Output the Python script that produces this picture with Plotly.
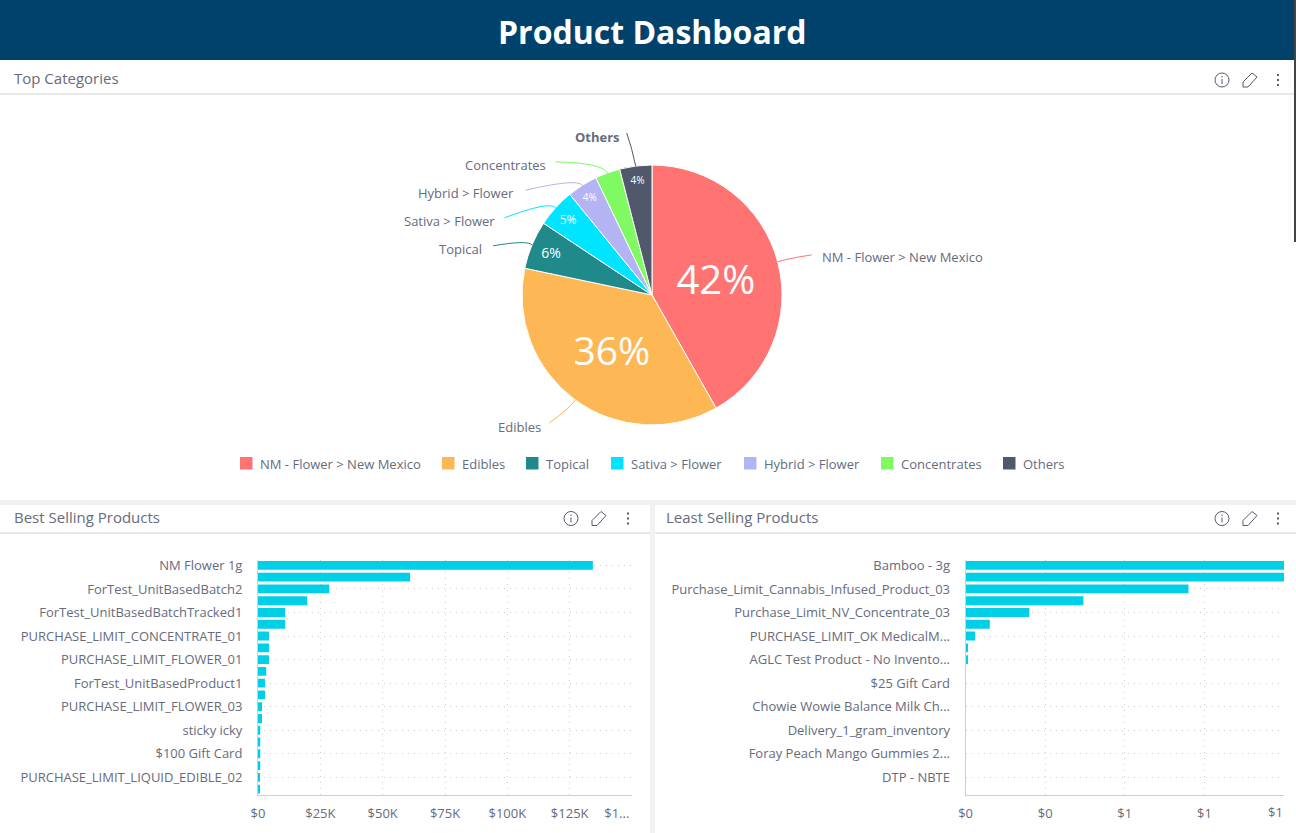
import math
import plotly.graph_objects as go

W, H = 1296, 833

# pie data (share of sales, %)
cat_names = ["NM - Flower > New Mexico", "Edibles", "Topical", "Sativa > Flower",
             "Hybrid > Flower", "Concentrates", "Others"]
cat_shares = [41.8, 36.5, 6.0, 4.8, 3.8, 3.1, 4.0]
cat_text = ["42%", "36%", "6%", "5%", "4%", "", "4%"]
cat_colors = ["#ff7473", "#fdb755", "#20898a", "#00e5ff", "#b4b4f5", "#80fa62", "#50586c"]

# bars, best sellers
best_labels = ["NM Flower 1g", "", "ForTest_UnitBasedBatch2", "", "ForTest_UnitBasedBatchTracked1", "",
               "PURCHASE_LIMIT_CONCENTRATE_01", "", "PURCHASE_LIMIT_FLOWER_01", "",
               "ForTest_UnitBasedProduct1", "", "PURCHASE_LIMIT_FLOWER_03", "", "sticky icky", "",
               "$100 Gift Card", "", "PURCHASE_LIMIT_LIQUID_EDIBLE_02", ""]
best_values = [134300, 61000, 28600, 19700, 10900, 10900, 4400, 4400, 4400, 3300,
               2800, 2800, 1600, 1600, 900, 900, 900, 900, 800, 500]
best_ticks = [0, 25000, 50000, 75000, 100000, 125000, 150000]
best_ticktext = ["$0", "$25K", "$50K", "$75K", "$100K", "$125K", "$1...\u00a0\u00a0\u00a0\u00a0\u00a0\u00a0\u00a0\u00a0\u00a0"]

# bars, least sellers
least_labels = ["Bamboo - 3g", "", "Purchase_Limit_Cannabis_Infused_Product_03", "",
                "Purchase_Limit_NV_Concentrate_03", "", "PURCHASE_LIMIT_OK MedicalM...", "",
                "AGLC Test Product - No Invento...", "", "$25 Gift Card", "",
                "Chowie Wowie Balance Milk Ch...", "", "Delivery_1_gram_inventory", "",
                "Foray Peach Mango Gummies 2...", "", "DTP - NBTE", ""]
least_values = [1, 1, 0.70, 0.37, 0.20, 0.076, 0.03, 0.0075, 0.0075, 0,
                0, 0, 0, 0, 0, 0, 0, 0, 0, 0]
least_ticks = [0, 0.25, 0.5, 0.75, 1]
# last label sits left of its tick, it would be dropped at the page edge so it is a note
least_ticktext = ["$0", "$0", "$1", "$1", ""]

TEXT = "#666b7d"
BAR = "#00cfe8"
GRID = "#cfcfcf"
FONT = "Open Sans"


def px(x):
    return x / W


def py(y):
    return 1 - y / H


shapes = []
notes = []


def box(x0, y0, x1, y1, color, layer="below"):
    shapes.append(dict(type="rect", xref="paper", yref="paper", x0=px(x0), x1=px(x1),
                       y0=py(y1), y1=py(y0), fillcolor=color, line_width=0, layer=layer))


def note(x, y, text, size=13, color=TEXT, anchor="center", bold=False):
    notes.append(dict(xref="paper", yref="paper", x=px(x), y=py(y), text=f"<b>{text}</b>" if bold else text,
                      showarrow=False, xanchor=anchor, yanchor="middle", borderpad=0, borderwidth=0,
                      font=dict(family=FONT, size=size, color=color)))


def panel(x0, y0, x1, y1, head_bottom, mid, title, title_x, icon_xs):
    box(x0, y0, x1, y1, "white")
    box(x0, head_bottom - 1, x1, head_bottom + 1, "#e8e8e8")
    note(title_x, mid - 2, title, size=15, anchor="left")
    # info icon
    ix, px_, dx = icon_xs
    shapes.append(dict(type="circle", xref="paper", yref="paper", x0=px(ix - 7), x1=px(ix + 7),
                       y0=py(mid + 7), y1=py(mid - 7), line=dict(color="#555b6c", width=1)))
    shapes.append(dict(type="line", xref="paper", yref="paper", x0=px(ix), x1=px(ix),
                       y0=py(mid + 4), y1=py(mid - 1), line=dict(color="#555b6c", width=1)))
    shapes.append(dict(type="line", xref="paper", yref="paper", x0=px(ix), x1=px(ix),
                       y0=py(mid - 2.5), y1=py(mid - 4), line=dict(color="#555b6c", width=1)))
    # pencil icon
    pts = [(-7, 7), (-7, 2), (2, -7), (7, -3), (-2, 7)]
    path = "M " + " L ".join(f"{px(px_ + a)} {py(mid + b)}" for a, b in pts) + " Z"
    shapes.append(dict(type="path", xref="paper", yref="paper", path=path, line=dict(color="#555b6c", width=1)))
    # dots
    for off in (-5, 0, 5):
        shapes.append(dict(type="rect", xref="paper", yref="paper", x0=px(dx - 1), x1=px(dx + 1),
                           y0=py(mid + off + 1), y1=py(mid + off - 1), fillcolor="#555b6c", line_width=0))


# page chrome
box(0, 0, W, 60, "#00426b")
note(652, 32, "Product Dashboard", size=32, color="white", bold=True)
panel(0, 60, W, 500, 94, 80, "Top Categories", 14, (1222, 1250, 1278))
panel(0, 505, 650, H, 533, 518.5, "Best Selling Products", 14, (571, 599, 628))
panel(655, 505, W, H, 533, 518.5, "Least Selling Products", 666, (1222, 1250, 1278))
box(1294, 0, W, 242, "#444444", layer="above")

# pie geometry, used for the callouts
PIE_CX, PIE_CY, PIE_R = 652, 295, 130
# (elbow dx, dy), (end dx, dy) relative to slice edge point, plus label position
leaders = [
    ((8, -3), (34, -7), (822, 257), "left"),
    ((-5, 8), (-26, 23), (541, 427), "right"),
    ((-5, -5), (-39, 1), (482, 249), "right"),
    ((-6, -7), (-51, 10), (495, 221), "right"),
    ((-5, -7), (-57, 5), (514, 193), "right"),
    ((-6, -10), (-52, -11), (546, 165), "right"),
    ((-4, -19), (-9, -33), (620, 137), "right"),
]

total = sum(cat_shares)
cum = 0
for i, share in enumerate(cat_shares):
    ang = math.radians((cum + share / 2) / total * 360)
    cum += share
    sx = PIE_CX + PIE_R * math.sin(ang)
    sy = PIE_CY - PIE_R * math.cos(ang)
    (ex, ey), (tx, ty), (lx, ly), anchor = leaders[i]
    path = (f"M {px(sx)} {py(sy)} Q {px(sx + ex)} {py(sy + ey)} {px(sx + tx)} {py(sy + ty)}")
    shapes.append(dict(type="path", xref="paper", yref="paper", path=path,
                       line=dict(color=cat_colors[i], width=1)))
    note(lx, ly, cat_names[i], size=13, anchor=anchor, bold=cat_names[i] == "Others")

# legend row, spaced as in the dashboard
legend_xs = [240, 442, 526, 611, 744, 881, 1003]
for name, color, lx in zip(cat_names, cat_colors, legend_xs):
    box(lx, 457, lx + 12.5, 469.5, color)
    note(lx + 20, 464, name, size=13, anchor="left")

note(1275, 811.5, "$1", size=13)

fig = go.Figure()

fig.add_trace(go.Pie(
    labels=cat_names, values=cat_shares, text=cat_text, textinfo="text",
    sort=False, direction="clockwise", rotation=0, showlegend=False,
    marker=dict(colors=cat_colors, line=dict(color="white", width=1)),
    textposition="inside", insidetextorientation="horizontal",
    insidetextfont=dict(family=FONT, color="white", size=[40, 39, 14, 12, 10, 10, 10]),
    domain=dict(x=[px(PIE_CX - PIE_R), px(PIE_CX + PIE_R)], y=[py(PIE_CY + PIE_R), py(PIE_CY - PIE_R)]),
    hoverinfo="label+percent",
))

fig.add_trace(go.Bar(x=best_values, y=list(range(len(best_values))), orientation="h",
                     marker_color=BAR, showlegend=False, xaxis="x", yaxis="y"))
fig.add_trace(go.Bar(x=least_values, y=list(range(len(least_values))), orientation="h",
                     marker_color=BAR, showlegend=False, xaxis="x2", yaxis="y2"))


def xax(domain, ticks, text, rng, anchor):
    return dict(domain=domain, range=rng, tickmode="array", tickvals=ticks, ticktext=text, anchor=anchor,
                automargin=False, showgrid=True, gridcolor=GRID, griddash="1px,5px", gridwidth=1, zeroline=False,
                showline=True, linecolor="#cfcfcf", ticks="outside", ticklen=6, tickcolor="rgba(0,0,0,0)",
                tickfont=dict(family=FONT, size=13, color=TEXT), fixedrange=True)


def yax(labels, anchor):
    vals = [i for i, t in enumerate(labels) if t]
    return dict(domain=[py(795), py(559.5)], range=[len(labels) - 0.5, -0.5], tickmode="array", anchor=anchor,
                tickvals=vals, ticktext=[labels[i] for i in vals], automargin=False,
                showgrid=True, gridcolor=GRID, griddash="1px,5px", gridwidth=1, zeroline=False,
                showline=True, linecolor="#cfcfcf", ticks="outside", ticklen=12, tickcolor="rgba(0,0,0,0)",
                tickfont=dict(family=FONT, size=13, color=TEXT), fixedrange=True)


fig.update_layout(
    template="none",
    width=W, height=H, margin=dict(l=0, r=0, t=0, b=0, autoexpand=False), autosize=False,
    paper_bgcolor="#f1f1f1", plot_bgcolor="rgba(0,0,0,0)",
    font=dict(family=FONT, color=TEXT),
    bargap=0.25, shapes=shapes, annotations=notes,
    showlegend=False,
    xaxis=xax([px(258), px(632)], best_ticks, best_ticktext, [0, 150000], "y"),
    yaxis=yax(best_labels, "x"),
    xaxis2=xax([px(965.6), px(1284)], least_ticks, least_ticktext, [0, 1], "y2"),
    yaxis2=yax(least_labels, "x2"),
)

fig.write_html("out.html", config={"displayModeBar": False},
               post_script="document.body.style.margin='0';document.body.style.overflow='hidden';")
